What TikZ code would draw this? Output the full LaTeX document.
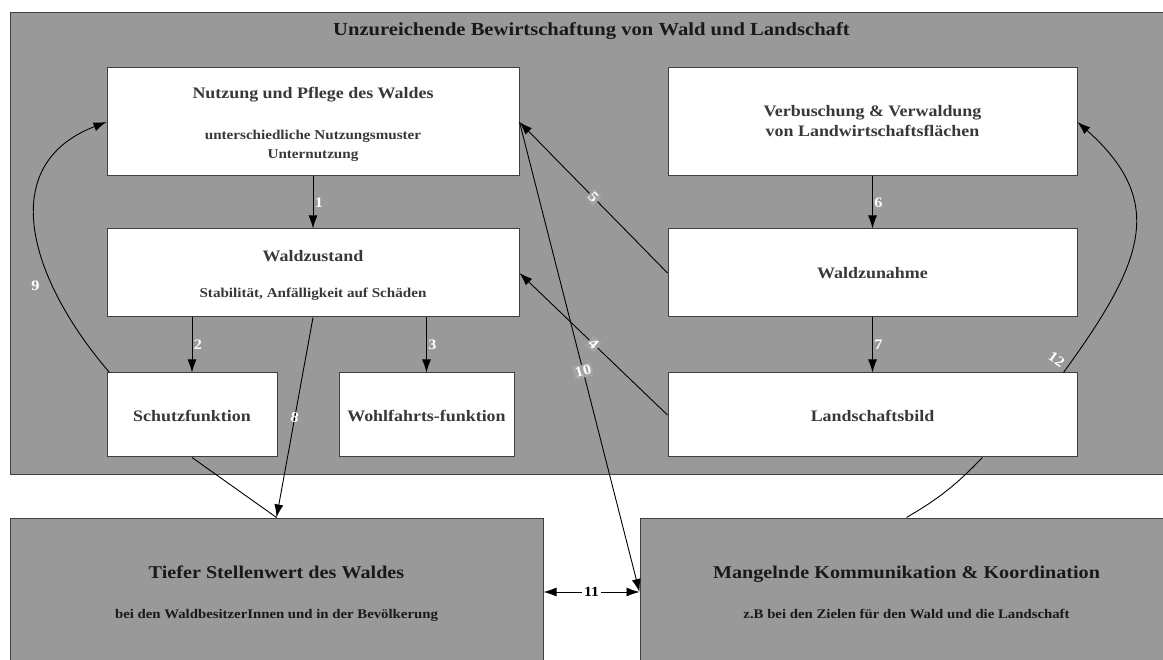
\documentclass[tikz,border=0pt]{standalone}
\usepackage{fontspec}
\setmainfont{Liberation Serif}[FakeStretch=1.12]
\usetikzlibrary{arrows.meta,calc}

\definecolor{panel}{HTML}{999999}
\definecolor{edgegray}{HTML}{404040}
\definecolor{txtgray}{HTML}{383838}
\definecolor{tagbg}{HTML}{A3A3A3}

% bold text at a given size and baseline skip
\newcommand\bfsz[2]{\fontsize{#1}{#2}\selectfont\bfseries}

\begin{document}
\begin{tikzpicture}[x=1pt,y=-1pt,
  >={Latex[length=13pt,width=9pt]},
  frame/.style={draw=edgegray, fill=panel, line width=1.2pt, inner sep=0pt},
  wbox/.style={draw=edgegray, fill=white, line width=1pt, inner sep=0pt},
  gbox/.style={draw=edgegray, fill=panel, line width=1pt, inner sep=0pt},
  tx/.style={inner sep=0pt, anchor=base, text=txtgray},
  hd/.style={tx, font=\bfsz{16}{19}},
  sb/.style={tx, font=\bfsz{13.5}{16}},
  bighd/.style={tx, text=black!90, font=\bfsz{18}{22}},
  bigsb/.style={tx, text=black!90, font=\bfsz{13.2}{16}},
  arr/.style={->, line width=0.9pt},
  link/.style={line width=0.9pt},
  num/.style={text=white, font=\bfsz{14.5}{16}, inner sep=1.5pt},
  tag/.style={num, fill=tagbg},
]
\useasboundingbox (0,0) rectangle (1163,660);
\fill[white] (0,0) rectangle (1163,660);

% surrounding panel
\node[frame, minimum width=1163pt, minimum height=462pt, anchor=north west] (frame) at (10,12) {};
\node[tx, text=black!90, font=\bfsz{18.4}{22}] (title) at (591.5,36)
  {Unzureichende Bewirtschaftung von Wald und Landschaft};

% boxes
\node[wbox, minimum width=412pt, minimum height=108pt] (nutz) at (313,122) {};
\node[wbox, minimum width=412pt, minimum height=88pt]  (wz)   at (313,273) {};
\node[wbox, minimum width=170pt, minimum height=84pt]  (schutz) at (192,415) {};
\node[wbox, minimum width=175pt, minimum height=84pt]  (wohl) at (426.5,415) {};
\node[wbox, minimum width=409pt, minimum height=108pt] (verb) at (872.5,122) {};
\node[wbox, minimum width=409pt, minimum height=88pt]  (wzun) at (872.5,273) {};
\node[wbox, minimum width=409pt, minimum height=84pt]  (land) at (872.5,415) {};
\node[gbox, minimum width=533pt, minimum height=148pt] (tief) at (276.5,592) {};
\node[gbox, minimum width=533pt, minimum height=148pt] (mang) at (906.5,592) {};

% box texts
\node[hd] (nutzT) at (313,99) {Nutzung und Pflege des Waldes};
\node[sb] (nutzS1) at (313,140) {unterschiedliche Nutzungsmuster};
\node[sb] (nutzS2) at (313,159) {Unternutzung};
\node[hd] (wzT) at (313,262) {Waldzustand};
\node[sb] (wzS) at (313,298) {Stabilität, Anfälligkeit auf Schäden};
\node[hd] (schutzT) at (192,421) {Schutzfunktion};
\node[hd] (wohlT) at (426.5,421) {Wohlfahrts-funktion};
\node[hd] (verbT1) at (872.5,117) {Verbuschung \& Verwaldung};
\node[hd] (verbT2) at (872.5,137) {von Landwirtschaftsflächen};
\node[hd] (wzunT) at (872.5,279) {Waldzunahme};
\node[hd] (landT) at (872.5,421) {Landschaftsbild};
\node[bighd] (tiefT) at (276.5,578) {Tiefer Stellenwert des Waldes};
\node[bigsb] (tiefS) at (276.5,618) {bei den WaldbesitzerInnen und in der Bevölkerung};
\node[bighd] (mangT) at (906.5,578) {Mangelnde Kommunikation \& Koordination};
\node[bigsb] (mangS) at (906.5,618) {z.B bei den Zielen für den Wald und die Landschaft};

% connectors
\draw[arr] (nutz.south) -- node[num, right] {1} (wz.north);
\draw[arr] (wz.south -| schutz.north) -- node[num, right] {2} (schutz.north);
\draw[arr] (wz.south -| wohl.north) -- node[num, right] {3} (wohl.north);
\draw[arr] (verb.south) -- node[num, right] {6} (wzun.north);
\draw[arr] (wzun.south) -- node[num, right] {7} (land.north);
\draw[arr] (wzun.west) -- node[tag, sloped] {5} (nutz.east);
\draw[arr] (land.west) -- node[tag, sloped] {4} (wz.east);
\draw[arr] (nutz.east) -- node[tag, pos=0.53, rotate=15] {10} (mang.west);
\draw[arr] (wz.south) -- node[num, rotate=-10] {8} (tief.north);
\draw[link] (schutz.south) -- (tief.north);
\draw[link] ($(land.south west)!0.768!(land.south east)$) to[bend left=8] (mang.north);
\draw[arr] ([xshift=3pt]schutz.north west) .. controls +(-80,-93) and +(-112,43) ..
  node[num, pos=0.3, left=11pt] {9} (nutz.west);
\draw[arr] ([xshift=-14pt]land.north east) .. controls +(80,-110) and +(90,80) ..
  node[num, pos=0, xshift=-7pt, yshift=13pt, rotate=-35] {12} (verb.east);
\draw[<->, line width=0.9pt]
  (tief.east) -- node[fill=white, text=black, font=\bfsz{14}{16}, inner sep=2pt] {11} (mang.west);
\end{tikzpicture}
\end{document}
